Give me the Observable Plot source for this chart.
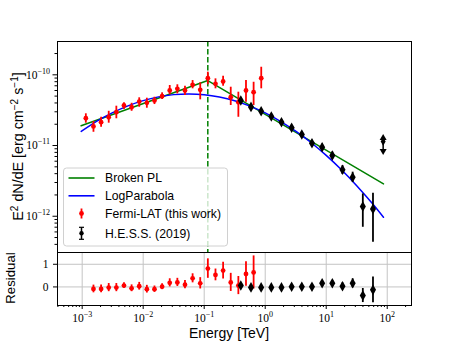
<!DOCTYPE html>
<html>
<head>
<meta charset="utf-8">
<script src="https://cdn.jsdelivr.net/npm/d3@7"></script>
<script src="https://cdn.jsdelivr.net/npm/@observablehq/plot@0.6"></script>
<style>
  html, body { margin: 0; padding: 0; background: white; }
  #wrap { position: relative; width: 457px; height: 343px; background: white; overflow: hidden; }
  #wrap > svg, #wrap > div { position: absolute; left: 0; }
</style>
</head>
<body>
<div id="wrap"></div>
<script>
// ---------------- data ----------------
const fermiE  = [0.001148, 0.001531, 0.002042, 0.002723, 0.003631, 0.004842, 0.006457, 0.00861, 0.01148, 0.01531, 0.02042, 0.02723, 0.03631, 0.04842, 0.06457, 0.0861, 0.1148, 0.1531, 0.2042, 0.2723, 0.3631, 0.4842, 0.6457, 0.861];
const fermiF  = [2.43e-11, 1.86e-11, 2.14e-11, 2.51e-11, 2.96e-11, 3.68e-11, 3.48e-11, 4.19e-11, 4.02e-11, 4.33e-11, 4.98e-11, 6.00e-11, 6.34e-11, 6.00e-11, 7.23e-11, 6.14e-11, 8.95e-11, 7.46e-11, 8.04e-11, 4.82e-11, 4.09e-11, 6.00e-11, 5.68e-11, 8.95e-11];
const fermiLo = [2.07e-11, 1.54e-11, 1.82e-11, 2.07e-11, 2.39e-11, 3.23e-11, 3.05e-11, 3.48e-11, 3.37e-11, 3.80e-11, 4.48e-11, 5.21e-11, 5.38e-11, 5.09e-11, 6.34e-11, 4.43e-11, 7.23e-11, 6.34e-11, 6.90e-11, 3.68e-11, 2.51e-11, 4.09e-11, 3.68e-11, 6.34e-11];
const fermiHi = [2.81e-11, 2.18e-11, 2.51e-11, 3.05e-11, 3.60e-11, 4.02e-11, 3.96e-11, 4.73e-11, 4.67e-11, 4.82e-11, 5.56e-11, 7.06e-11, 7.23e-11, 6.90e-11, 8.30e-11, 7.71e-11, 1.09e-10, 8.77e-11, 9.55e-11, 6.68e-11, 5.68e-11, 8.30e-11, 7.85e-11, 1.28e-10];
const fermiRes    = [null, -0.09, -0.09, -0.03, -0.03, 0.06, -0.06, 0.03, -0.10, -0.10, 0.01, 0.18, 0.20, 0.10, 0.38, 0.16, 0.81, 0.53, 0.72, 0.20, 0.06, 0.57, 0.64, null];
const fermiResErr = [null, 0.17, 0.17, 0.18, 0.18, 0.12, 0.15, 0.17, 0.17, 0.14, 0.13, 0.18, 0.18, 0.18, 0.20, 0.25, 0.43, 0.26, 0.37, 0.40, 0.40, 0.54, 0.73, null];

const hessE  = [0.398, 0.585, 0.858, 1.259, 1.848, 2.712, 3.981, 5.843, 8.577, 12.59, 18.48, 27.12, 39.81, 58.43];
const hessF  = [4.33e-11, 3.52e-11, 3.05e-11, 2.57e-11, 2.14e-11, 1.78e-11, 1.43e-11, 1.08e-11, 9.47e-12, 7.22e-12, 4.53e-12, 3.56e-12, 1.37e-12, 1.27e-12];
const hessLo = [4.00e-11, 3.25e-11, 2.82e-11, 2.37e-11, 1.97e-11, 1.64e-11, 1.31e-11, 9.8e-12, 8.6e-12, 6.4e-12, 3.9e-12, 3.0e-12, 6.98e-13, 4.28e-13];
const hessHi = [4.68e-11, 3.80e-11, 3.30e-11, 2.78e-11, 2.32e-11, 1.93e-11, 1.56e-11, 1.19e-11, 1.05e-11, 8.1e-12, 5.2e-12, 4.2e-12, 2.07e-12, 2.11e-12];
const hessRes    = [0.06, -0.02, -0.02, -0.02, -0.02, 0.01, 0.01, 0.01, 0.16, 0.16, 0.03, 0.16, -0.38, -0.13];
const hessResErr = [0.08, 0.07, 0.07, 0.07, 0.07, 0.07, 0.08, 0.08, 0.10, 0.12, 0.15, 0.20, 0.31, 0.57];

// H.E.S.S. upper limit
const ulE = [85.77];
const ulF = [1.14e-11];
const ulLo = [8.35e-12];
const ulHi = [1.28e-11];

// Broken power law model (start, break, end)
const bplE = [9.6e-4, 0.1146, 86.9];
const bplF = [1.90e-11, 8.3e-11, 2.87e-12];
const breakE = [0.1146];

// LogParabola model
const lpE = [9.64e-4, 0.001778, 0.003162, 0.005623, 0.01, 0.01778, 0.03162, 0.05623, 0.1, 0.1778, 0.3162, 0.5623, 1, 1.778, 3.162, 5.623, 10, 17.78, 31.62, 56.23, 86.9];
const lpF = [1.585e-11, 2.228e-11, 2.917e-11, 3.639e-11, 4.315e-11, 4.875e-11, 5.248e-11, 5.370e-11, 5.236e-11, 4.853e-11, 4.295e-11, 3.606e-11, 2.891e-11, 2.203e-11, 1.596e-11, 1.104e-11, 7.244e-12, 4.539e-12, 2.704e-12, 1.535e-12, 9.66e-13];

// ticks
const xMajor = [1e-3, 1e-2, 1e-1, 1, 10, 100];
const xMajorLabels = ["10^−3", "10^−2", "10^−1", "10^0", "10^1", "10^2"];
const yMajor = [1e-12, 1e-11, 1e-10];
const yMajorLabels = ["10^−12", "10^−11", "10^−10"];
const resTicks = [0, 1];
const resTickLabels = ["0", "1"];

// ---------------- tables ----------------
const fermi = fermiE.map((e, i) => ({e, f: fermiF[i], lo: fermiLo[i], hi: fermiHi[i], r: fermiRes[i], re: fermiResErr[i]}));
const fermiR = fermi.filter(d => d.r != null);
const hess = hessE.map((e, i) => ({e, f: hessF[i], lo: hessLo[i], hi: hessHi[i], r: hessRes[i], re: hessResErr[i]}));
const ul = ulE.map((e, i) => ({e, f: ulF[i], lo: ulLo[i], hi: ulHi[i]}));
const bpl = bplE.map((e, i) => ({e, f: bplF[i]}));
const lp = lpE.map((e, i) => ({e, f: lpF[i]}));

const xDomain = [3.94e-4, 250];
const minorX = [];
for (let k = -4; k <= 2; k++) for (let m = 2; m <= 9; m++) { const v = m * 10 ** k; if (v >= xDomain[0] && v <= xDomain[1]) minorX.push(v); }
const yDomain = [3.07e-13, 2.96e-10];
const minorY = [];
for (let k = -13; k <= -10; k++) for (let m = 2; m <= 9; m++) { const v = m * 10 ** k; if (v >= yDomain[0] && v <= yDomain[1]) minorY.push(v); }

const lab = (vals, labels) => d => labels[vals.findIndex(v => Math.abs(v - d) / Math.abs(v || 1) < 1e-6)] ?? "";

const tickFont = {fontFamily: "'Liberation Serif', 'DejaVu Serif', serif", fontSize: "11.5px", background: "transparent", overflow: "visible"};

// ---------------- main panel ----------------
const main = Plot.plot({
  width: 457, height: 253,
  marginLeft: 57, marginRight: 46, marginTop: 41, marginBottom: 1,
  style: tickFont,
  x: {type: "log", domain: xDomain, axis: null},
  y: {type: "log", domain: yDomain, label: null},
  marks: [
    Plot.ruleX(breakE, {stroke: "#008000", strokeWidth: 1.5, strokeDasharray: "5.5,2.5"}),
    Plot.line(bpl, {x: "e", y: "f", stroke: "#008000", strokeWidth: 1.5}),
    Plot.line(lp, {x: "e", y: "f", stroke: "#0000ff", strokeWidth: 1.5, curve: "natural"}),
    Plot.ruleX(fermi, {x: "e", y1: "lo", y2: "hi", stroke: "#ff0000", strokeWidth: 1.8}),
    Plot.dot(fermi, {x: "e", y: "f", fill: "#ff0000", r: 2.4}),
    Plot.ruleX(hess, {x: "e", y1: "lo", y2: "hi", stroke: "black", strokeWidth: 1.8}),
    Plot.dot(hess, {x: "e", y: "f", fill: "black", symbol: "diamond", r: 3.2}),
    Plot.ruleX(ul, {x: "e", y1: "lo", y2: "hi", stroke: "black", strokeWidth: 1.5}),
    Plot.dot(ul, {x: "e", y: "hi", fill: "black", symbol: "triangle", r: 2.6}),
    Plot.dot(ul, {x: "e", y: "lo", fill: "black", symbol: "triangle", rotate: 180, r: 2.6}),
    Plot.dot(ul, {x: "e", y: "f", fill: "black", symbol: "diamond", r: 2.6}),
    Plot.axisY(yMajor, {anchor: "left", tickSize: 4.5, tickPadding: 3, tickFormat: lab(yMajor, yMajorLabels), label: null}),
    Plot.axisY(minorY, {anchor: "left", tickSize: 2.5, tickFormat: () => "", label: null}),
    Plot.frame({stroke: "black", strokeWidth: 1})
  ]
});
main.style.top = "0px";

// ---------------- residual panel ----------------
const res = Plot.plot({
  width: 457, height: 93,
  marginLeft: 57, marginRight: 46, marginTop: 2, marginBottom: 38,
  style: tickFont,
  x: {type: "log", domain: xDomain, label: null},
  y: {domain: [-0.82, 1.52], label: null},
  marks: [
    Plot.gridX(xMajor, {stroke: "#c4c4c4", strokeOpacity: 1, strokeWidth: 1}),
    Plot.gridY(resTicks, {stroke: "#c4c4c4", strokeOpacity: 1, strokeWidth: 1}),
    Plot.ruleX(fermiR, {x: "e", y1: d => d.r - d.re, y2: d => d.r + d.re, stroke: "#ff0000", strokeWidth: 1.8}),
    Plot.dot(fermiR, {x: "e", y: "r", fill: "#ff0000", r: 2.4}),
    Plot.ruleX(hess, {x: "e", y1: d => d.r - d.re, y2: d => d.r + d.re, stroke: "black", strokeWidth: 1.8}),
    Plot.dot(hess, {x: "e", y: "r", fill: "black", symbol: "diamond", r: 3.2}),
    Plot.axisX(xMajor, {anchor: "bottom", tickSize: 4, tickPadding: 4, tickFormat: lab(xMajor, xMajorLabels), label: null}),
    Plot.axisX(minorX, {anchor: "bottom", tickSize: 2, tickFormat: () => "", label: null}),
    Plot.axisY(resTicks, {anchor: "left", tickSize: 4, tickPadding: 5, tickFormat: lab(resTicks, resTickLabels), label: null}),
    Plot.frame({stroke: "black", strokeWidth: 1})
  ]
});
res.style.top = "250px";

// superscripts for 10^n tick labels
function supify(svg) {
  svg.querySelectorAll("text").forEach(t => {
    const m = t.textContent.match(/^10\^(.+)$/);
    if (!m) return;
    while (t.firstChild) t.removeChild(t.firstChild);
    const a = document.createElementNS("http://www.w3.org/2000/svg", "tspan");
    a.textContent = "10";
    const b = document.createElementNS("http://www.w3.org/2000/svg", "tspan");
    b.textContent = m[1];
    b.setAttribute("dy", "-5");
    b.setAttribute("font-size", "8px");
    t.appendChild(a); t.appendChild(b);
  });
}
supify(main); supify(res);

const wrap = document.getElementById("wrap");
wrap.appendChild(main);
wrap.appendChild(res);

// ---------------- labels & legend overlay ----------------
const NS = "http://www.w3.org/2000/svg";
const ov = document.createElementNS(NS, "svg");
ov.setAttribute("width", 457); ov.setAttribute("height", 343);
ov.style.top = "0px"; ov.style.pointerEvents = "none";
const sans = "'Liberation Sans', Arial, sans-serif";
ov.innerHTML = `
  <text x="229" y="337.5" text-anchor="middle" font-family="${sans}" font-size="14px" fill="black">Energy [TeV]</text>
  <text transform="translate(23,146.5) rotate(-90)" text-anchor="middle" font-family="${sans}" font-size="14.3px" fill="black">E<tspan dy="-5" font-size="10px">2</tspan><tspan dy="5"> dN/dE [erg cm</tspan><tspan dy="-5" font-size="10px">−2</tspan><tspan dy="5"> s</tspan><tspan dy="-5" font-size="10px">−1</tspan><tspan dy="5">]</tspan></text>
  <text transform="translate(15,278) rotate(-90)" text-anchor="middle" font-family="${sans}" font-size="13.2px" fill="black">Residual</text>
  <g transform="translate(63.5,168)">
    <rect x="0" y="0" width="164" height="78" rx="3" ry="3" fill="white" fill-opacity="0.8" stroke="#d0d0d0" stroke-width="1"/>
    <line x1="5" x2="31" y1="10" y2="10" stroke="#008000" stroke-width="1.6"/>
    <line x1="5" x2="31" y1="27.8" y2="27.8" stroke="#0000ff" stroke-width="1.6"/>
    <line x1="18" x2="18" y1="40.5" y2="50.5" stroke="#ff0000" stroke-width="1.8"/>
    <circle cx="18" cy="45.5" r="2.4" fill="#ff0000"/>
    <line x1="18" x2="18" y1="59.3" y2="71.3" stroke="black" stroke-width="1.5"/>
    <line x1="15.5" x2="20.5" y1="59.3" y2="59.3" stroke="black" stroke-width="1.2"/>
    <line x1="15.5" x2="20.5" y1="71.3" y2="71.3" stroke="black" stroke-width="1.2"/>
    <circle cx="18" cy="65.3" r="2.2" fill="black"/>
    <g font-family="${sans}" font-size="12.2px" fill="black">
      <text x="41.5" y="14.4">Broken PL</text>
      <text x="41.5" y="32.2">LogParabola</text>
      <text x="41.5" y="49.9">Fermi-LAT (this work)</text>
      <text x="41.5" y="69.7">H.E.S.S. (2019)</text>
    </g>
  </g>`;
wrap.appendChild(ov);
</script>
</body>
</html>
